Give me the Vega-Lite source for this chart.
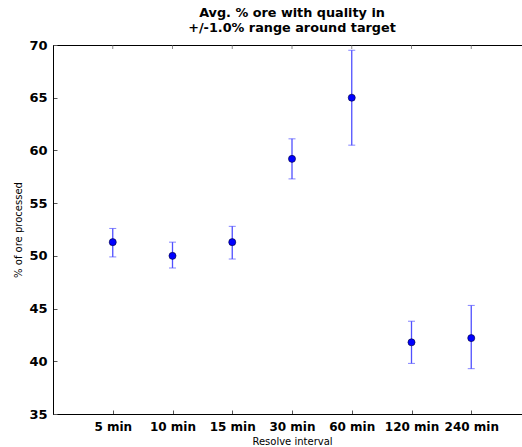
{
  "$schema": "https://vega.github.io/schema/vega-lite/v6.json",
  "autosize": "none",
  "padding": {"left": 53, "top": 45, "right": 0, "bottom": 33},
  "width": 478,
  "height": 369,
  "title": {
    "text": ["Avg. % ore with quality in", "+/-1.0% range around target"],
    "font": "DejaVu Sans",
    "fontSize": 12.8,
    "fontWeight": "bold",
    "color": "#000000",
    "anchor": "middle",
    "dx": 0,
    "offset": 4,
    "lineHeight": 15,
    "align": "center"
  },
  "config": {
    "view": {"stroke": "#000000", "strokeWidth": 1},
    "font": "DejaVu Sans"
  },
  "data": {
    "values": [
      {"pos": 1, "label": "5 min", "mean": 51.3, "lo": 49.9, "hi": 52.6},
      {"pos": 2, "label": "10 min", "mean": 50.0, "lo": 48.85, "hi": 51.3},
      {"pos": 3, "label": "15 min", "mean": 51.3, "lo": 49.7, "hi": 52.8},
      {"pos": 4, "label": "30 min", "mean": 59.2, "lo": 57.3, "hi": 61.1},
      {"pos": 5, "label": "60 min", "mean": 65.0, "lo": 60.5, "hi": 69.5},
      {"pos": 6, "label": "120 min", "mean": 41.8, "lo": 39.8, "hi": 43.8},
      {"pos": 7, "label": "240 min", "mean": 42.2, "lo": 39.3, "hi": 45.3}
    ]
  },
  "layer": [
    {
      "mark": {"type": "tick", "orient": "vertical", "clip": true, "size": 8, "thickness": 1, "color": "#555555"},
      "encoding": {
        "x": {"field": "pos", "type": "quantitative"},
        "y": {"datum": 70, "type": "quantitative"}
      }
    },
    {
      "mark": {"type": "errorbar", "ticks": {"size": 7, "color": "#5050ff", "strokeWidth": 1}, "rule": {"color": "#5050ff", "strokeWidth": 1.3}},
      "encoding": {
        "x": {
          "field": "pos", "type": "quantitative",
          "scale": {"domain": [0, 8], "nice": false, "zero": false},
          "axis": {
            "title": "Resolve interval",
            "titleFont": "DejaVu Sans", "titleFontSize": 10, "titleFontWeight": "normal", "titleColor": "#000000", "titlePadding": 4,
            "values": [1, 2, 3, 4, 5, 6, 7],
            "labelExpr": "['','5 min','10 min','15 min','30 min','60 min','120 min','240 min'][datum.value]",
            "labelFont": "DejaVu Sans", "labelFontSize": 12, "labelFontWeight": "bold", "labelColor": "#000000",
            "tickSize": -4, "tickColor": "#555555", "labelPadding": 11,
            "domainColor": "#000000", "grid": false
          }
        },
        "y": {
          "field": "lo", "type": "quantitative",
          "scale": {"domain": [35, 70], "nice": false, "zero": false},
          "axis": {
            "title": "% of ore processed",
            "titleFont": "DejaVu Sans", "titleFontSize": 10, "titleFontWeight": "normal", "titleColor": "#000000", "titlePadding": 5,
            "values": [35, 40, 45, 50, 55, 60, 65, 70],
            "labelFont": "DejaVu Sans", "labelFontSize": 13, "labelFontWeight": "bold", "labelColor": "#000000",
            "tickSize": -4, "tickColor": "#555555", "labelPadding": 10,
            "domainColor": "#000000", "grid": false
          }
        },
        "y2": {"field": "hi"}
      }
    },
    {
      "mark": {"type": "point", "filled": true, "size": 50, "color": "#0000ff", "stroke": "#000033", "strokeWidth": 0.6, "opacity": 1},
      "encoding": {
        "x": {"field": "pos", "type": "quantitative"},
        "y": {"field": "mean", "type": "quantitative"}
      }
    }
  ]
}
